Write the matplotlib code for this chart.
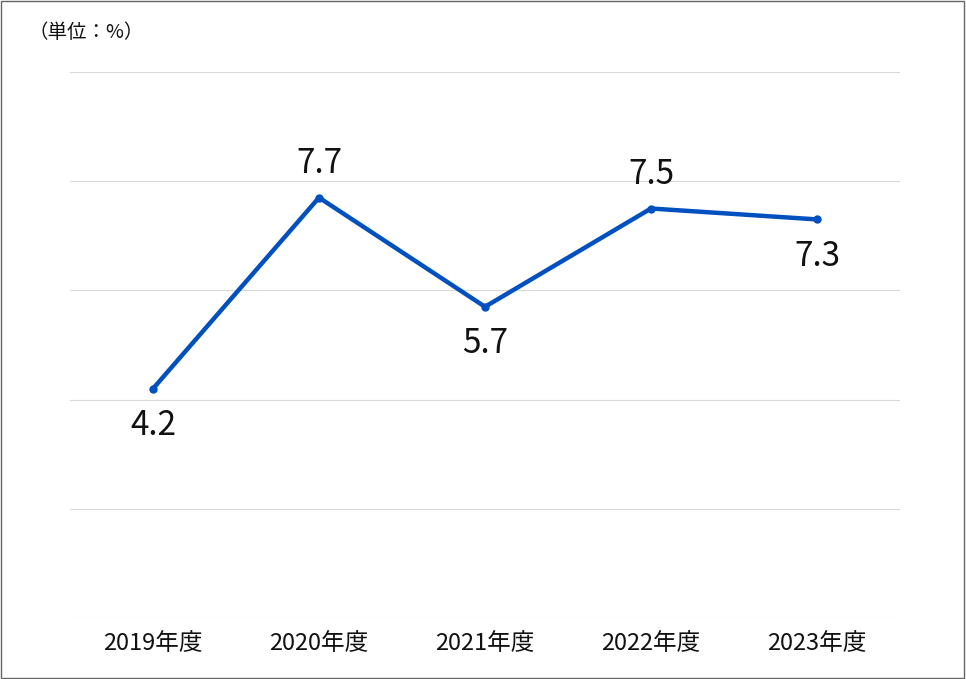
import matplotlib
matplotlib.use("Agg")
import matplotlib.pyplot as plt
from matplotlib.patches import Rectangle

plt.rcParams['font.family'] = ['Noto Sans CJK JP', 'DejaVu Sans']

years = ["2019年度", "2020年度", "2021年度", "2022年度", "2023年度"]
values = [4.2, 7.7, 5.7, 7.5, 7.3]
label_below = [True, False, True, False, True]

fig = plt.figure(figsize=(9.66, 6.79), dpi=100)
fig.patches.append(Rectangle((0.001, 0.001), 0.997, 0.997, transform=fig.transFigure,
                             fill=False, edgecolor="#666666", linewidth=1))
ax = fig.add_axes([70 / 966, 61 / 679, 830 / 966, 546 / 679])

x = range(len(years))
ax.plot(x, values, color="#0050c0", linewidth=3.2, marker="o", markersize=5, zorder=3)
for xi, v, below in zip(x, values, label_below):
    ax.annotate(f"{v}", (xi, v), xytext=(0, -14 if below else 12), textcoords="offset points",
                ha="center", va="top" if below else "bottom", fontsize=24, color="#111111")

ax.set_xlim(-0.5, 4.5)
ax.set_ylim(0, 10)
ax.set_yticks([0, 2, 4, 6, 8, 10])
ax.set_yticklabels([])
ax.grid(axis="y", color="#d9d9d9", linewidth=0.8)
ax.set_xticks(list(x))
ax.set_xticklabels(years, fontsize=17, color="#111111")
ax.tick_params(axis="both", length=0, pad=10)
for s in ax.spines.values():
    s.set_visible(False)

fig.text(28 / 966, 1 - 33 / 679, "（単位：%）", fontsize=14, va="center", ha="left", color="#111111")

fig.savefig("out.png", dpi=100)
